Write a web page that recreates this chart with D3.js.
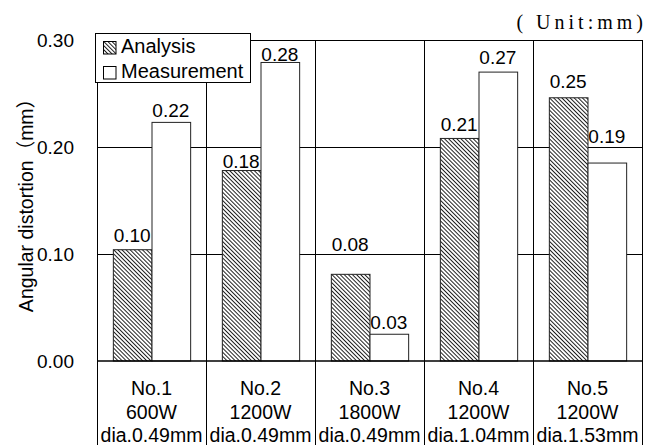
<!DOCTYPE html>
<html>
<head>
<meta charset="utf-8">
<script src="https://cdn.jsdelivr.net/npm/d3@7"></script>
<style>
  html, body { margin: 0; padding: 0; background: #fff; }
  svg text { font-family: "Liberation Sans", Arial, "Noto Sans CJK JP", sans-serif; fill: #000; }
</style>
</head>
<body>
<div id="chart"></div>
<script>
const categories = ["No.1", "No.2", "No.3", "No.4", "No.5"];
const powers = ["600W", "1200W", "1800W", "1200W", "1200W"];
const diameters = ["dia.0.49mm", "dia.0.49mm", "dia.0.49mm", "dia.1.04mm", "dia.1.53mm"];
const series = ["Analysis", "Measurement"];
const analysis = [0.104, 0.178, 0.081, 0.208, 0.246];
const measurement = [0.223, 0.279, 0.025, 0.270, 0.185];
const analysisLabels = ["0.10", "0.18", "0.08", "0.21", "0.25"];
const measurementLabels = ["0.22", "0.28", "0.03", "0.27", "0.19"];
const yTicks = [0, 0.1, 0.2, 0.3];

// gap (px) between bar top and label baseline, as placed in the original
const labelGap = { Analysis: [8, 3, 23, 7, 10], Measurement: [5, 1, 5, 8, 20] };

const W = 651, H = 445;
const plotL = 97, plotR = 642, plotT = 40, plotB = 361;

const svg = d3.select("#chart").append("svg")
  .attr("width", W).attr("height", H);

const defs = svg.append("defs");
const pat = defs.append("pattern")
  .attr("id", "hatch")
  .attr("patternUnits", "userSpaceOnUse")
  .attr("width", 2.9).attr("height", 10)
  .attr("patternTransform", "rotate(-45)");
pat.append("rect").attr("width", 2.9).attr("height", 10).attr("fill", "#fff");
pat.append("line").attr("x1", 0.5).attr("y1", 0).attr("x2", 0.5).attr("y2", 10)
  .attr("stroke", "#111").attr("stroke-width", 0.95);

const x = d3.scaleBand().domain(categories).range([plotL, plotR]).paddingInner(0).paddingOuter(0);
const x1 = d3.scaleBand().domain(series).range([0, x.bandwidth()]).paddingInner(0).paddingOuter(0.41);
const y = d3.scaleLinear().domain([0, 0.3]).range([plotB, plotT]);

// gridlines
svg.append("g").selectAll("line").data(yTicks.slice(1)).join("line")
  .attr("x1", plotL).attr("x2", plotR)
  .attr("y1", d => Math.round(y(d)) + 0.5).attr("y2", d => Math.round(y(d)) + 0.5)
  .attr("stroke", "#000").attr("stroke-width", 1);

// vertical separators through plot and table
const seps = categories.map(c => x(c)).concat([plotR]);
svg.append("g").selectAll("line").data(seps).join("line")
  .attr("x1", d => Math.round(d) + 0.5).attr("x2", d => Math.round(d) + 0.5)
  .attr("y1", plotT).attr("y2", H + 5)
  .attr("stroke", "#000").attr("stroke-width", 1);

// y tick labels
const yAxis = svg.append("g")
  .attr("transform", `translate(${plotL},0)`)
  .call(d3.axisLeft(y).tickValues(yTicks).tickSize(0).tickPadding(23).tickFormat(d3.format(".2f")));
yAxis.select(".domain").remove();
yAxis.selectAll("text").style("font-size", "19px").attr("font-family", null);

// bars
const rows = categories.map((c, i) => ({ c, i, vals: [
  { s: "Analysis", v: analysis[i], label: analysisLabels[i] },
  { s: "Measurement", v: measurement[i], label: measurementLabels[i] }
]}));

const groups = svg.append("g").selectAll("g").data(rows).join("g")
  .attr("transform", d => `translate(${x(d.c)},0)`);

groups.selectAll("rect").data(d => d.vals.map(v => ({ ...v, i: d.i }))).join("rect")
  .attr("x", d => x1(d.s) + 0.5)
  .attr("y", d => y(d.v))
  .attr("width", x1.bandwidth())
  .attr("height", d => plotB - y(d.v))
  .attr("fill", d => d.s === "Analysis" ? "url(#hatch)" : "#fff")
  .attr("stroke", "#222").attr("stroke-width", 1);

groups.selectAll("text").data(d => d.vals.map(v => ({ ...v, i: d.i }))).join("text")
  .attr("x", d => x1(d.s) + x1.bandwidth() / 2)
  .attr("y", d => y(d.v) - labelGap[d.s][d.i])
  .attr("text-anchor", "middle")
  .style("font-size", "19px")
  .text(d => d.label);

// axis line
svg.append("line")
  .attr("x1", plotL).attr("x2", plotR).attr("y1", plotB).attr("y2", plotB)
  .attr("stroke", "#000").attr("stroke-width", 1.6);

// table text
const table = svg.append("g").selectAll("text").data(categories).join("text")
  .attr("text-anchor", "middle")
  .style("font-size", "19.5px");
table.append("tspan").attr("y", 395).attr("x", d => x(d) + x.bandwidth() / 2).text(d => d);
table.append("tspan").attr("y", 419).attr("x", d => x(d) + x.bandwidth() / 2).text((d, i) => powers[i]);
table.append("tspan").attr("y", 442).attr("x", d => x(d) + x.bandwidth() / 2).text((d, i) => diameters[i]);

// legend
const lg = svg.append("g");
lg.append("rect").attr("x", 95.5).attr("y", 33.5).attr("width", 155).attr("height", 49)
  .attr("fill", "#fff").attr("stroke", "#000").attr("stroke-width", 1);
series.forEach((s, i) => {
  lg.append("rect").attr("x", 103.5).attr("y", 41.5 + i * 25).attr("width", 12.5).attr("height", 12.5)
    .attr("fill", s === "Analysis" ? "url(#hatch)" : "#fff").attr("stroke", "#000");
  lg.append("text").attr("x", 121).attr("y", 53 + i * 25).style("font-size", "20px").text(s);
});

// y axis title
svg.append("text")
  .attr("transform", `translate(33,${(plotT + plotB) / 2}) rotate(-90)`)
  .attr("text-anchor", "middle")
  .style("font-size", "19.5px")
  .text("Angular distortion（mm）");

// unit note
svg.append("text")
  .attr("x", 647).attr("y", 29)
  .attr("text-anchor", "end")
  .style("font-family", "'Liberation Serif', serif")
  .style("font-size", "20px")
  .style("letter-spacing", "4px")
  .text("( Unit:mm)");
</script>
</body>
</html>
